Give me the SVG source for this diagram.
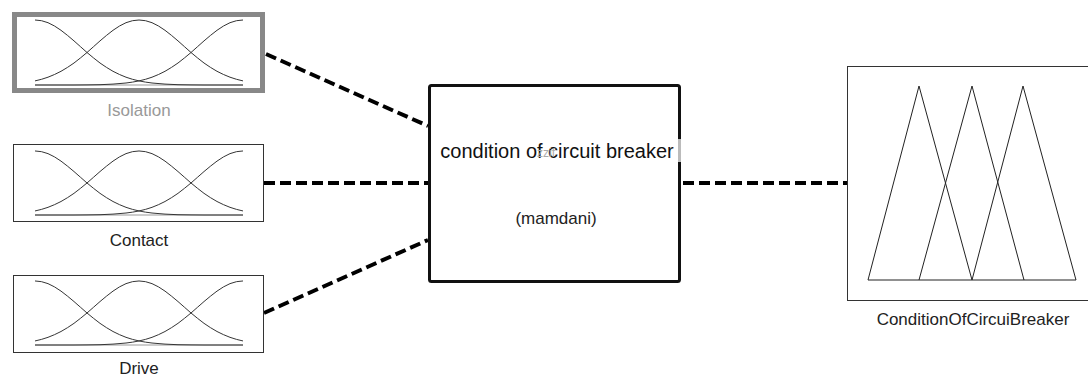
<svg xmlns="http://www.w3.org/2000/svg" xmlns:xlink="http://www.w3.org/1999/xlink" width="1088" height="378" viewBox="0 0 1088 378">
<style>
text{font-family:"Liberation Sans",Arial,sans-serif;}
.lbl{font-size:17px;fill:#222;text-anchor:middle;}
.mf{fill:none;stroke:#333;stroke-width:1;}
.base{stroke:#999;stroke-width:1;}
.box{fill:#fff;stroke:#333;stroke-width:1;}
.conn{fill:none;stroke:#000;stroke-width:4;stroke-dasharray:11 5;}
.tri{fill:none;stroke:#222;stroke-width:1;}
</style>
<defs>
<g id="mfs">
<line class="base" x1="0" y1="0" x2="208" y2="0"/>
<polyline id="c1" class="mf" points="0,-65 6.5,-64.3 13,-62.3 19.5,-59 26,-54.7 32.5,-49.6 39,-44.1 45.5,-38.3 52,-32.5 58.5,-27.1 65,-22 71.5,-17.6 78,-13.7 84.5,-10.5 91,-7.8 97.5,-5.7 104,-4.1 110.5,-2.9 117,-2 130,-0.9 143,-0.3 156,-0.1 169,0 208,0"/>
<polyline class="mf" points="0,-4.1 6.5,-5.7 13,-7.8 19.5,-10.5 26,-13.7 32.5,-17.6 39,-22 45.5,-27.1 52,-32.5 58.5,-38.3 65,-44.1 71.5,-49.6 78,-54.7 84.5,-59 91,-62.3 97.5,-64.3 104,-65 110.5,-64.3 117,-62.3 123.5,-59 130,-54.7 136.5,-49.6 143,-44.1 149.5,-38.3 156,-32.5 162.5,-27.1 169,-22 175.5,-17.6 182,-13.7 188.5,-10.5 195,-7.8 201.5,-5.7 208,-4.1"/>
<use xlink:href="#c1" href="#c1" transform="matrix(-1 0 0 1 208 0)"/>
</g>
</defs>
<rect width="1088" height="378" fill="#fff"/>
<g id="connectors">
<line class="conn" x1="266" y1="54" x2="428" y2="126"/>
<line class="conn" x1="264" y1="183" x2="428" y2="183"/>
<line class="conn" x1="264" y1="313" x2="428" y2="240"/>
<line class="conn" x1="683" y1="183" x2="847" y2="183"/>
</g>
<g id="isolation">
<rect x="14.5" y="14.5" width="248" height="76" fill="#fff" stroke="#888" stroke-width="5"/>
<use xlink:href="#mfs" href="#mfs" transform="translate(35,85)"/>
<text class="lbl" x="139" y="116" style="fill:#999">Isolation</text>
</g>
<g id="contact">
<rect class="box" x="13.5" y="144.5" width="250" height="77"/>
<use xlink:href="#mfs" href="#mfs" transform="translate(35,215) scale(1,0.985)"/>
<text class="lbl" x="139" y="246">Contact</text>
</g>
<g id="drive">
<rect class="box" x="13.5" y="275.5" width="250" height="77"/>
<use xlink:href="#mfs" href="#mfs" transform="translate(35,345) scale(1,0.985)"/>
<text class="lbl" x="139" y="374">Drive</text>
</g>
<g id="system">
<rect x="429.5" y="85.5" width="250" height="196" rx="2" fill="#fff" stroke="#111" stroke-width="3"/>
<rect x="678" y="139" width="3" height="23" fill="#bbb"/>
<text x="557" y="158" style="font-size:20px;fill:#111;text-anchor:middle">condition of circuit breaker</text>
<text x="537" y="157" style="font-size:12px;fill:#aaa">zzif</text>
<text class="lbl" x="556" y="224">(mamdani)</text>
</g>
<g id="output">
<rect class="box" x="847.5" y="66.5" width="260" height="234" stroke="#555"/>
<polyline class="tri" points="868,280 919,86 972,280"/>
<polyline class="tri" points="919,280 972,86 1024,280"/>
<polyline class="tri" points="972,280 1023,86 1076,280"/>
<line class="tri" x1="868" y1="280" x2="1076" y2="280"/>
<text class="lbl" x="973" y="325">ConditionOfCircuiBreaker</text>
</g>
</svg>
